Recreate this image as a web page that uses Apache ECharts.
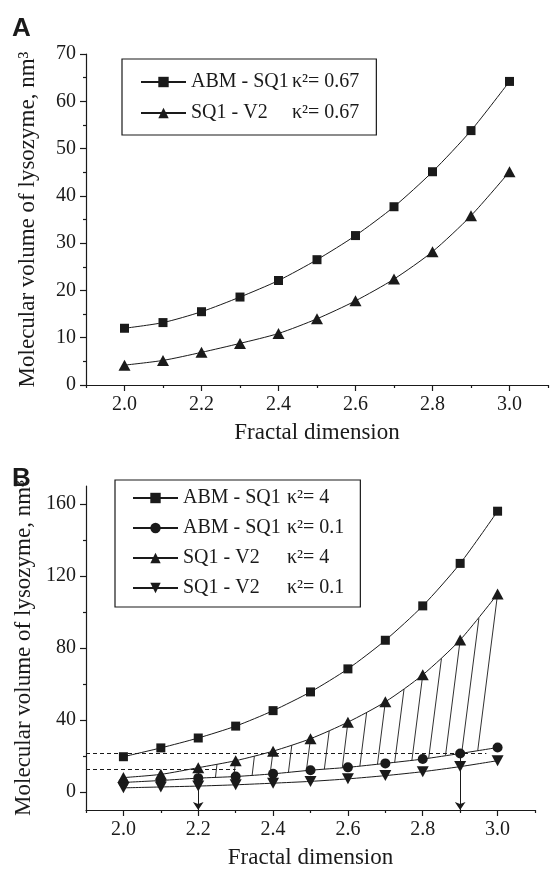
<!DOCTYPE html>
<html>
<head>
<meta charset="utf-8">
<title>Molecular volume of lysozyme vs fractal dimension</title>
<script src="https://cdn.jsdelivr.net/npm/echarts@6/dist/echarts.min.js"></script>
<style>
  html, body { margin: 0; padding: 0; background: #fff; }
  #chart { width: 550px; height: 870px; }
</style>
</head>
<body>
<div id="chart"></div>
<script>
// x values shared by every curve
const fractalDim = [2.0, 2.1, 2.2, 2.3, 2.4, 2.5, 2.6, 2.7, 2.8, 2.9, 3.0];

// panel A, kappa^2 = 0.67
const abmSq1A = [12.0, 13.2, 15.5, 18.6, 22.1, 26.5, 31.6, 37.7, 45.1, 53.8, 64.2];
const sq1V2A = [4.2, 5.2, 6.9, 8.8, 10.9, 14.0, 17.8, 22.4, 28.2, 35.8, 45.1];

// panel B
const abmSq1K4 = [19.6, 24.5, 30.0, 36.6, 45.2, 55.6, 68.4, 84.3, 103.4, 127.0, 156.0];
const abmSq1K01 = [5.3, 6.4, 7.7, 8.6, 10.1, 12.1, 13.7, 15.9, 18.3, 21.4, 24.7];
const sq1V2K4 = [8.0, 9.8, 13.5, 17.4, 22.7, 29.6, 38.8, 50.1, 65.1, 84.5, 110.0];
const sq1V2K01 = [2.3, 2.8, 3.3, 4.0, 4.9, 5.9, 7.3, 9.1, 11.3, 14.1, 17.4];

// hatching between the SQ1-V2 (k2=4) and ABM-SQ1 (k2=0.1) curves
const hatchTop = [
  [2.25, 15.3], [2.30, 17.4], [2.35, 19.9], [2.40, 22.7], [2.45, 26.0], [2.50, 29.6],
  [2.55, 34.0], [2.60, 38.8], [2.65, 44.2], [2.70, 50.1], [2.75, 57.2], [2.80, 65.1],
  [2.85, 74.2], [2.90, 84.5], [2.95, 96.5], [3.00, 110.0]
];
const hatchBottom = [
  [2.246, 8.1], [2.295, 8.6], [2.344, 9.2], [2.392, 10.0], [2.441, 10.9], [2.489, 11.9],
  [2.537, 12.7], [2.585, 13.5], [2.632, 14.4], [2.679, 15.4], [2.725, 16.5], [2.771, 17.6],
  [2.816, 19.0], [2.861, 20.5], [2.904, 21.5], [2.947, 23.1]
];

// dashed read-off levels and the arrows dropped to the x axis
const guideLevels = [21.8, 12.4];
const guideEnds = [2.97, 2.3];
const arrowX = [2.9, 2.2];

// ticks
const xMajor = [2.0, 2.2, 2.4, 2.6, 2.8, 3.0];
const xMinor = [1.9, 2.1, 2.3, 2.5, 2.7, 2.9, 3.1];
const yMajorB = [0, 40, 80, 120, 160];
const yMinorB = [20, 60, 100, 140];

const font = 'Liberation Serif';
const ink = '#1a1a1a';
const invTriangle = 'path://M0,0 L20,0 L10,17 Z';

const namesA = ['ABM - SQ1 κ²= 0.67', 'SQ1 - V2 κ²= 0.67'];
const namesB = ['ABM - SQ1 κ²= 4', 'ABM - SQ1 κ²= 0.1', 'SQ1 - V2 κ²= 4', 'SQ1 - V2 κ²= 0.1'];

const axisLineStyle = { color: ink, width: 1.2 };
const labelStyle = { fontFamily: font, fontSize: 20, color: ink };
const nameStyle = { fontFamily: font, fontSize: 23, color: ink };

function xAxes(gridIndex) {
  return [
    {
      gridIndex, type: 'value', position: 'bottom', min: 1.9, max: 3.1,
      axisLine: { show: true, onZero: false, lineStyle: axisLineStyle },
      axisTick: { show: true, customValues: xMajor, length: 6, lineStyle: axisLineStyle },
      axisLabel: { customValues: xMajor, formatter: (v) => v.toFixed(1), margin: 10, ...labelStyle },
      splitLine: { show: false },
      name: 'Fractal dimension', nameLocation: 'middle', nameGap: 36, nameTextStyle: nameStyle
    },
    {
      gridIndex, type: 'value', position: 'bottom', min: 1.9, max: 3.1,
      axisLine: { show: false, onZero: false },
      axisTick: { show: true, customValues: xMinor, length: 3, lineStyle: axisLineStyle },
      axisLabel: { show: false },
      splitLine: { show: false }
    }
  ];
}

const yName = 'Molecular volume of lysozyme, nm³';

const yAxes = [
  {
    gridIndex: 0, type: 'value', position: 'left', min: 0, max: 70, interval: 10,
    axisLine: { show: true, onZero: false, lineStyle: axisLineStyle },
    axisTick: { show: true, length: 6, lineStyle: axisLineStyle },
    minorTick: { show: true, splitNumber: 2, length: 3, lineStyle: axisLineStyle },
    axisLabel: { margin: 10, ...labelStyle },
    splitLine: { show: false },
    name: yName, nameLocation: 'middle', nameGap: 47, nameTextStyle: nameStyle
  },
  {
    gridIndex: 1, type: 'value', position: 'left', min: -10, max: 170,
    axisLine: { show: true, onZero: false, lineStyle: axisLineStyle },
    axisTick: { show: true, customValues: yMajorB, length: 6, lineStyle: axisLineStyle },
    axisLabel: { customValues: yMajorB, margin: 10, ...labelStyle },
    splitLine: { show: false },
    name: yName, nameLocation: 'middle', nameGap: 47, nameTextStyle: nameStyle
  },
  {
    gridIndex: 1, type: 'value', position: 'left', min: -10, max: 170,
    axisLine: { show: false, onZero: false },
    axisTick: { show: true, customValues: yMinorB, length: 3, lineStyle: axisLineStyle },
    axisLabel: { show: false },
    splitLine: { show: false }
  }
];

function curve(name, values, xi, yi, symbol, size) {
  return {
    name, type: 'line', xAxisIndex: xi, yAxisIndex: yi,
    data: fractalDim.map((x, i) => [x, values[i]]),
    smooth: 0.25, symbol, symbolSize: size, showSymbol: true,
    lineStyle: { color: ink, width: 1 },
    itemStyle: { color: ink },
    emphasis: { disabled: true }, z: 3
  };
}

function legendFor(names, left, top, padding, gap, firstWidth) {
  return {
    data: names, orient: 'vertical', left, top, padding, itemGap: gap,
    itemWidth: 45, itemHeight: 13, selectedMode: false,
    borderColor: ink, borderWidth: 1.2,
    textStyle: {
      ...labelStyle, lineHeight: 20,
      rich: {
        a: { width: firstWidth, fontFamily: font, fontSize: 20, color: ink, lineHeight: 20 },
        b: { fontFamily: font, fontSize: 20, color: ink, lineHeight: 20 }
      }
    },
    formatter: (name) => {
      const k = name.indexOf('κ');
      return '{a|' + name.slice(0, k).trim() + '}{b|' + name.slice(k) + '}';
    }
  };
}

const chart = echarts.init(document.getElementById('chart'));

chart.setOption({
  animation: false,
  backgroundColor: '#fff',
  grid: [
    { left: 86, top: 54, width: 462, height: 331 },
    { left: 86, top: 486, width: 449, height: 330 }
  ],
  xAxis: [...xAxes(0), ...xAxes(1)],
  yAxis: yAxes,
  legend: [
    legendFor(namesA, 122, 59, [13, 17, 12, 18], 11, 101),
    legendFor(namesB, 115, 480, [8, 16, 9, 17], 10, 104)
  ],
  graphic: [
    { type: 'text', left: 12, top: 16, style: { text: 'A', font: 'bold 26px "Liberation Sans"', fill: ink } },
    { type: 'text', left: 12, top: 466, style: { text: 'B', font: 'bold 26px "Liberation Sans"', fill: ink } }
  ],
  series: [
    curve(namesA[0], abmSq1A, 0, 0, 'rect', 9),
    curve(namesA[1], sq1V2A, 0, 0, 'triangle', [12, 11]),
    {
      type: 'lines', coordinateSystem: 'cartesian2d', xAxisIndex: 2, yAxisIndex: 1,
      data: hatchTop.map((p, i) => ({ coords: [p, hatchBottom[i]] })),
      lineStyle: { color: ink, width: 0.9, type: 'solid', opacity: 1 },
      symbol: 'none', silent: true, z: 1
    },
    {
      type: 'lines', coordinateSystem: 'cartesian2d', xAxisIndex: 2, yAxisIndex: 1,
      data: guideLevels.map((lv, i) => ({ coords: [[1.9, lv], [guideEnds[i], lv]] })),
      lineStyle: { color: ink, width: 1, type: [4, 3], opacity: 1 },
      symbol: 'none', silent: true, z: 1
    },
    {
      type: 'lines', coordinateSystem: 'cartesian2d', xAxisIndex: 2, yAxisIndex: 1,
      data: arrowX.map((x, i) => ({ coords: [[x, guideLevels[i]], [x, -10]] })),
      lineStyle: { color: ink, width: 1, opacity: 1 },
      itemStyle: { color: ink, opacity: 1 },
      symbol: ['none', 'arrow'], symbolSize: 8, silent: true, z: 2
    },
    curve(namesB[0], abmSq1K4, 2, 1, 'rect', 9),
    curve(namesB[1], abmSq1K01, 2, 1, 'circle', 10),
    curve(namesB[2], sq1V2K4, 2, 1, 'triangle', [12, 11]),
    curve(namesB[3], sq1V2K01, 2, 1, invTriangle, [12, 11])
  ]
});
</script>
</body>
</html>
